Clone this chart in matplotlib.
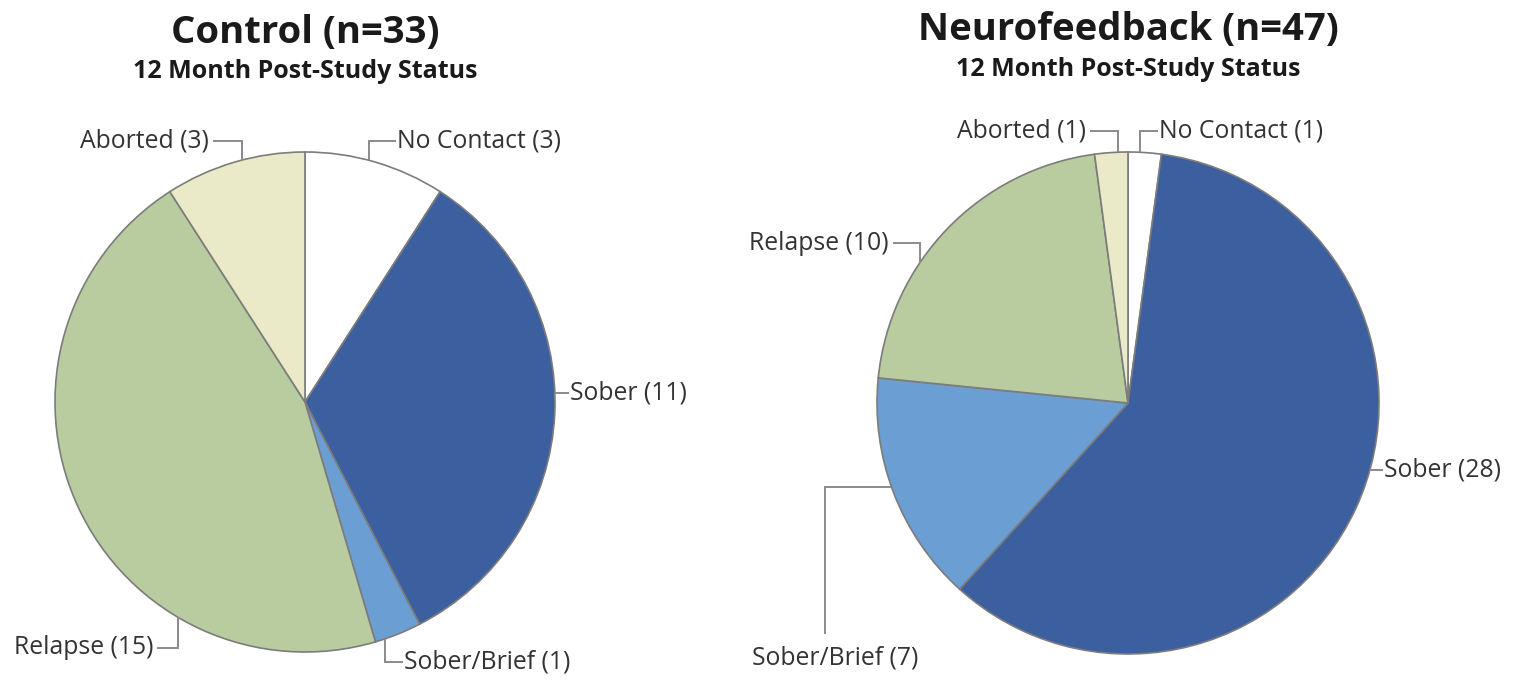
import matplotlib
matplotlib.use("Agg")
import matplotlib.pyplot as plt
import numpy as np

# Outcome categories (clockwise from 12 o'clock) and counts per group
categories = ["No Contact", "Sober", "Sober/Brief", "Relapse", "Aborted"]
control_counts = [3, 11, 1, 15, 3]
neuro_counts = [1, 28, 7, 10, 1]
group_names = ["Control", "Neurofeedback"]
subtitle = "12 Month Post-Study Status"

colors = ["#ffffff", "#3c5f9f", "#6b9fd3", "#b8cc9f", "#eaeac8"]
edge = "#7c7c7c"
lead = "#8a8a8a"
txt = "#333333"

W, H = 1520, 683
fig = plt.figure(figsize=(W / 100, H / 100), dpi=100)
ax = fig.add_axes([0, 0, 1, 1])
ax.set_xlim(0, W)
ax.set_ylim(0, H)
ax.set_aspect("equal")
ax.axis("off")

def Y(y):
    return H - y

FONT = "Open Sans"


def draw_group(counts, name, cx, cy, r, title_y, sub_y, labels):
    total = sum(counts)
    ax.pie(counts, colors=colors, startangle=90, counterclock=False,
           center=(cx, Y(cy)), radius=r, frame=True,
           wedgeprops=dict(edgecolor=edge, linewidth=1.2))
    ax.text(cx, Y(title_y), f"{name} (n={total})", ha="center", va="center",
            fontsize=27.5, fontweight="bold", color="#1a1a1a", family=FONT)
    ax.text(cx, Y(sub_y), subtitle, ha="center", va="center",
            fontsize=18, fontweight="bold", color="#1a1a1a", family=FONT)
    for cat, count in zip(categories, counts):
        spec = labels[cat]
        kind = spec["kind"]
        tx, ty = spec["text"]
        if kind == "vert":
            # leader rises/falls vertically from the rim, then runs to the label
            lx = spec["x"]
            side = spec.get("side", -1)
            ay = cy + side * np.sqrt(r ** 2 - (lx - cx) ** 2)
            xs = [lx, lx, spec["end"]]
            ys = [ay, ty, ty]
        elif kind == "horiz":
            # short horizontal leader starting on the rim at the label height
            side = spec.get("side", 1)
            ax_ = cx + side * np.sqrt(r ** 2 - (ty - cy) ** 2)
            xs = [ax_, spec["end"]]
            ys = [ty, ty]
        else:
            # horizontal leader from the rim, then vertical down to the label
            hy = spec["y"]
            ax_ = cx - np.sqrt(r ** 2 - (hy - cy) ** 2)
            xs = [ax_, spec["x"], spec["x"]]
            ys = [hy, hy, spec["bottom"]]
        ax.plot(xs, [Y(v) for v in ys], color=lead, lw=1.4,
                solid_joinstyle="miter", solid_capstyle="butt")
        if kind == "elbow":
            ha = "left"
        else:
            ha = spec.get("ha", "left")
        ax.text(tx, Y(ty), f"{cat} ({count})", ha=ha, va="center",
                fontsize=17.8, color=txt, family=FONT)


control_labels = {
    "Aborted": dict(kind="vert", x=242, end=213, text=(209, 141), ha="right"),
    "No Contact": dict(kind="vert", x=369, end=396, text=(397, 141)),
    "Sober": dict(kind="horiz", end=569, text=(570, 393)),
    "Sober/Brief": dict(kind="vert", x=385, side=1, end=403, text=(404, 662)),
    "Relapse": dict(kind="vert", x=178, side=1, end=157, text=(153, 648), ha="right"),
}
neuro_labels = {
    "Aborted": dict(kind="vert", x=1118, end=1090, text=(1086, 131), ha="right"),
    "No Contact": dict(kind="vert", x=1140, end=1158, text=(1159, 131)),
    "Sober": dict(kind="horiz", end=1383, text=(1384, 470)),
    "Sober/Brief": dict(kind="elbow", y=487, x=825, bottom=634, text=(752, 658)),
    "Relapse": dict(kind="vert", x=920, end=893, text=(889, 243), ha="right"),
}

draw_group(control_counts, group_names[0], 305, 402, 250, 33, 72, control_labels)
draw_group(neuro_counts, group_names[1], 1128, 403, 251, 30, 69, neuro_labels)

ax.set_xlim(0, W)
ax.set_ylim(0, H)
ax.axis("off")

fig.savefig("out.png", dpi=100, facecolor="white")
